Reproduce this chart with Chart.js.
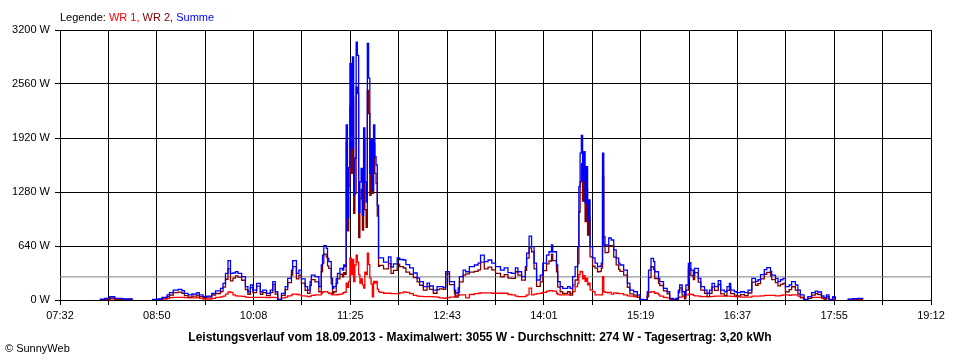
<!DOCTYPE html>
<html lang="de">
<head>
<meta charset="utf-8">
<title>Leistungsverlauf 18.09.2013</title>
<script src="https://cdn.jsdelivr.net/npm/chart.js@4.4.0/dist/chart.umd.min.js"></script>
<style>
    body { margin: 0; background: #fff; }
    #rahmen { position: relative; width: 960px; height: 360px; font-family: 'Liberation Sans', Arial, sans-serif; font-size: 11px; line-height: 13px; color: #000; }
    #diagramm { position: absolute; left: 0; top: 0; }
    #legende { position: absolute; left: 60px; top: 11px; white-space: nowrap; }
    #titel { position: absolute; left: 0; width: 960px; top: 330px; text-align: center; font-weight: bold; font-size: 12px; line-height: 14px; white-space: nowrap; }
    #copy { position: absolute; left: 5px; top: 342px; }
    .wr1 { color: #ff0000; }
    .wr2 { color: #800000; }
    .summe { color: #0000ff; }
</style>
</head>
<body>
<div id="rahmen">
    <canvas id="diagramm" width="960" height="360"></canvas>
    <div id="legende">Legende: <span class="wr1">WR 1,</span> <span class="wr2">WR 2,</span> <span class="summe">Summe</span></div>
    <div id="titel">Leistungsverlauf vom 18.09.2013 - Maximalwert: 3055 W - Durchschnitt: 274 W - Tagesertrag: 3,20 kWh</div>
    <div id="copy">&copy; SunnyWeb</div>
</div>
<script>
// Messzeitpunkte (Uhrzeit)
const zeiten = [
    '08:04','08:08','08:12','08:16','08:22','08:30','08:38',
    '08:46','08:51','08:54','08:58','09:00','09:03','09:07','09:10','09:12','09:15','09:18','09:22','09:24','09:27','09:30',
    '09:34','09:37','09:41','09:43','09:45','09:47','09:49','09:51','09:53','09:55','09:58','10:01','10:03','10:05','10:07',
    '10:10','10:13','10:15','10:18','10:21','10:23','10:25','10:27','10:30','10:33','10:35','10:38','10:39','10:42','10:44',
    '10:46','10:49','10:51','10:53','10:54','10:57','11:00','11:02','11:03','11:04','11:06','11:07','11:08','11:10','11:11',
    '11:12','11:14','11:15','11:17','11:19','11:20','11:21',
    '11:22','11:23','11:24','11:25','11:26','11:27','11:28','11:29','11:30','11:31','11:32','11:33','11:34','11:35',
    '11:36','11:37','11:38','11:39','11:40','11:41','11:42','11:43','11:44','11:45','11:46','11:47','11:48','11:49',
    '11:52','11:56','11:58','12:00','12:03','12:05','12:08','12:10','12:13','12:16','12:19','12:21','12:24','12:27','12:29',
    '12:32','12:35','12:37','12:40','12:42','12:45','12:49','12:50','12:52','12:53','12:56','12:58','13:01','13:05','13:08',
    '13:10','13:13','13:16','13:19','13:22','13:26','13:29','13:32','13:35','13:38','13:40','13:43','13:46','13:47','13:49',
    '13:51','13:53','13:55','13:58','14:00','14:03','14:05','14:07','14:08','14:11','14:12','14:14','14:16','14:20','14:22',
    '14:24','14:26','14:28','14:29','14:30','14:31','14:32','14:33','14:34','14:35','14:36','14:37','14:38','14:40','14:42',
    '14:44','14:46','14:47','14:48','14:49','14:50','14:52','14:53','14:55','14:57','14:59','15:01','15:02','15:05','15:08',
    '15:10','15:13','15:16','15:18','15:21','15:24','15:25','15:27','15:29','15:30','15:33','15:34','15:37','15:40','15:42',
    '15:45','15:47','15:49','15:50','15:52','15:54','15:55','15:57','15:58','15:59','16:01','16:02','16:05','16:07','16:10',
    '16:12','16:14','16:16','16:18','16:21','16:23','16:26','16:28','16:30','16:31','16:34','16:36','16:39','16:42','16:45',
    '16:48','16:51','16:53','16:55','16:58','17:00','17:03','17:04','17:07','17:09','17:11','17:13','17:15','17:18','17:20',
    '17:23','17:25','17:27','17:30','17:33','17:36','17:39','17:41','17:44','17:46','17:48','17:50','17:52','17:53','17:55',
    '17:57','18:05','18:09','18:13','18:17'
];

// Summe (W)
const summe = [
    10,20,40,20,12,10,null,
    8,12,32,60,87,118,126,110,79,60,71,87,60,40,47,
    79,107,138,197,316,466,316,320,335,316,276,158,98,178,118,
    197,98,118,79,118,217,98,8,79,158,257,355,466,316,355,
    250,158,118,217,296,276,158,415,533,643,612,494,454,257,138,
    158,257,316,375,355,415,395,
    2074,970,1570,2800,1800,2880,1244,1680,3055,2900,1040,1400,1560,1007,
    2040,1400,1160,3040,2630,1500,1900,1300,2074,1700,1600,1125,500,500,
    450,510,390,427,500,480,474,420,380,320,260,217,158,200,166,
    118,158,158,146,335,217,118,83,142,276,355,335,395,415,438,
    533,454,474,438,395,355,380,324,316,380,335,276,395,556,758,
    632,438,237,296,438,533,572,652,572,415,217,158,138,158,138,
    276,395,632,1343,1740,1950,1422,1757,1150,1580,948,1185,632,500,438,
    395,400,438,1740,750,652,650,735,711,593,497,438,415,355,200,
    118,98,60,8,3,98,355,494,454,335,257,217,138,98,20,
    8,20,118,178,98,60,178,435,442,355,296,375,257,158,118,
    80,118,197,158,229,118,98,158,197,118,98,87,98,87,118,
    257,220,240,300,360,383,340,296,257,217,240,257,158,178,217,
    178,118,60,8,40,87,105,95,50,27,60,8,5,40,5,
    null,10,15,20,12
];

// WR 1 (W)
const wr1 = [
    5,8,15,8,5,4,null,
    3,5,10,20,28,30,32,30,28,25,25,30,20,12,12,
    20,30,38,45,70,95,90,60,50,45,42,35,30,32,30,
    32,30,30,28,30,32,28,5,25,35,50,60,70,65,60,
    50,45,40,45,55,60,60,80,95,100,100,90,80,65,60,
    60,62,65,70,80,90,92,
    200,150,220,500,300,480,217,415,533,450,300,200,250,180,
    140,330,300,556,420,260,190,37,220,200,220,130,100,90,
    80,80,75,75,75,85,95,90,75,55,45,42,40,40,40,
    38,35,25,20,25,35,45,50,55,60,60,25,65,75,80,
    85,85,85,80,80,80,80,65,60,45,40,40,45,60,140,
    60,70,75,80,90,105,110,110,105,80,65,60,60,60,80,
    100,158,200,300,340,335,250,290,220,260,180,200,120,100,60,
    60,60,60,276,100,90,85,90,70,85,80,75,75,60,50,
    45,40,30,5,2,60,90,100,95,80,60,45,30,25,10,
    5,15,30,35,40,45,60,70,70,65,55,50,45,40,40,
    40,40,42,45,45,45,45,45,45,42,40,38,35,35,35,
    45,45,45,50,55,55,55,55,50,50,55,60,60,55,60,
    60,45,35,5,20,30,30,30,20,15,20,5,3,10,3,
    null,3,5,5,3
];

// WR 2 (W)
const wr2 = [
    5,12,25,12,7,6,null,
    5,7,22,40,59,88,94,80,51,35,46,57,40,28,35,
    59,77,100,152,246,371,226,260,285,271,234,123,68,146,88,
    165,68,88,51,88,185,70,3,54,123,207,295,396,251,295,
    200,113,78,172,241,216,98,335,438,543,512,404,374,192,78,
    98,195,251,305,275,325,303,
    1874,820,1350,2300,1500,2400,1027,1265,2522,2450,740,1200,1310,827,
    1900,1070,860,2484,2210,1240,1710,1263,1854,1500,1380,995,400,410,
    370,430,315,352,425,395,379,330,305,265,215,175,118,160,126,
    80,123,133,126,310,182,73,33,87,216,295,310,330,340,358,
    448,369,389,358,315,275,300,259,256,335,295,236,350,496,618,
    572,368,162,216,348,428,462,542,467,335,152,98,78,98,58,
    176,237,432,1043,1400,1615,1172,1467,930,1320,768,985,512,400,378,
    335,340,378,1464,650,562,565,645,641,508,417,363,340,295,150,
    73,58,30,3,1,38,265,394,359,255,197,172,108,73,10,
    3,5,88,143,58,15,118,365,372,290,241,325,212,118,78,
    40,78,155,113,184,73,53,113,152,76,58,49,63,52,83,
    212,175,195,250,305,328,285,241,207,167,185,197,98,123,157,
    118,73,25,3,20,57,75,65,30,12,40,3,2,30,2,
    null,7,10,15,9
];

// Tagesdurchschnitt (W)
const durchschnitt = 274;

// Achsenbeschriftungen
const zeitLabels = ['07:32', '08:50', '10:08', '11:25', '12:43', '14:01', '15:19', '16:37', '17:55', '19:12'];
const leistungTicks = [0, 640, 1280, 1920, 2560, 3200];

document.addEventListener('DOMContentLoaded', function() {
    function zuMinuten(t) {
        const teile = t.split(':');
        return Number(teile[0]) * 60 + Number(teile[1]);
    }

    const xMin = zuMinuten(zeitLabels[0]);
    const xMax = zuMinuten(zeitLabels[zeitLabels.length - 1]);
    const xSchritte = (zeitLabels.length - 1) * 2;

    function reihe(werte) {
        return zeiten.map((t, i) => ({ x: zuMinuten(t), y: werte[i] }));
    }

    const linie = {
        borderWidth: 1.3,
        pointRadius: 0,
        stepped: true,
        spanGaps: false,
        fill: false
    };

    Chart.defaults.font.family = "'Liberation Sans', Arial, sans-serif";
    Chart.defaults.font.size = 11;
    Chart.defaults.color = '#000';

    const ctx = document.getElementById('diagramm').getContext('2d');

    new Chart(ctx, {
        type: 'line',
        data: {
            datasets: [
                { ...linie, label: 'Summe', data: reihe(summe), borderColor: '#0000ff', order: 0 },
                { ...linie, label: 'WR 2', data: reihe(wr2), borderColor: '#800000', order: 1 },
                { ...linie, label: 'WR 1', data: reihe(wr1), borderColor: '#ff0000', order: 2 },
                {
                    ...linie,
                    label: 'Durchschnitt',
                    data: [{ x: xMin, y: durchschnitt }, { x: xMax, y: durchschnitt }],
                    borderColor: '#808080',
                    borderWidth: 1,
                    stepped: false,
                    order: 3
                }
            ]
        },
        options: {
            responsive: false,
            animation: false,
            events: [],
            layout: {
                padding: { left: 0, right: 29, top: 30, bottom: 0 }
            },
            plugins: {
                legend: { display: false },
                tooltip: { enabled: false },
                title: { display: false }
            },
            scales: {
                x: {
                    type: 'linear',
                    min: xMin,
                    max: xMax,
                    afterFit: function(scale) { scale.height = 60; },
                    afterBuildTicks: function(scale) {
                        const ticks = [];
                        for (let i = 0; i <= xSchritte; i++) {
                            ticks.push({ value: xMin + i * (xMax - xMin) / xSchritte });
                        }
                        scale.ticks = ticks;
                    },
                    grid: { color: '#000', lineWidth: 1, tickLength: 5, tickColor: '#000' },
                    border: { display: true, color: '#000', width: 1 },
                    ticks: {
                        autoSkip: false,
                        maxRotation: 0,
                        padding: 4,
                        callback: function(value, index) {
                            return index % 2 === 0 ? zeitLabels[index / 2] : '';
                        }
                    }
                },
                y: {
                    min: leistungTicks[0],
                    max: leistungTicks[leistungTicks.length - 1],
                    afterFit: function(scale) { scale.width = 60; },
                    afterBuildTicks: function(scale) {
                        scale.ticks = leistungTicks.map(v => ({ value: v }));
                    },
                    grid: { color: '#000', lineWidth: 1, tickLength: 5, tickColor: '#000' },
                    border: { display: true, color: '#000', width: 1 },
                    ticks: {
                        padding: 5,
                        callback: function(value) { return value + ' W'; }
                    }
                }
            }
        }
    });
});
</script>
</body>
</html>
